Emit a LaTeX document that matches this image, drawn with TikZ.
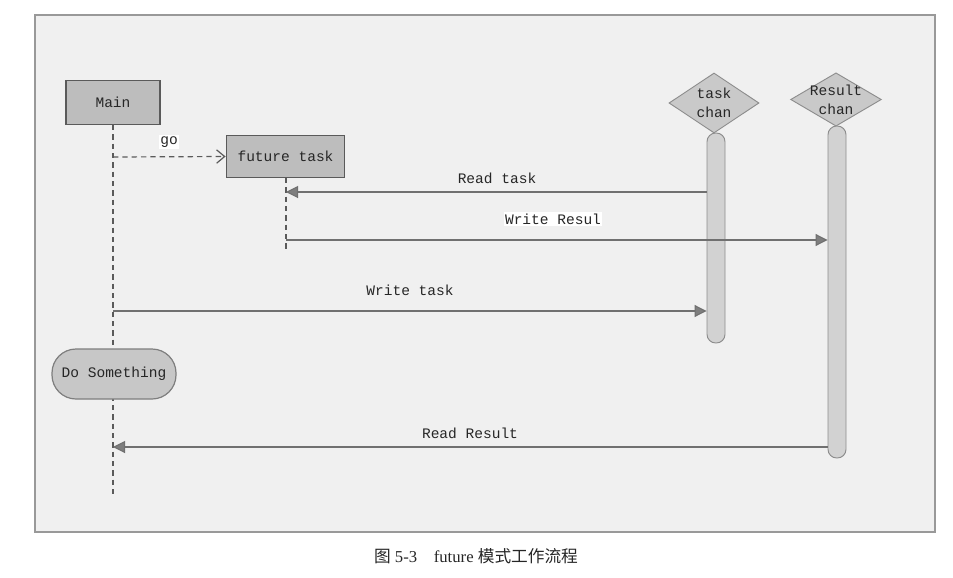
\documentclass[tikz,border=0pt]{standalone}
\usepackage{fontspec}
\setmainfont{Liberation Serif}
\setmonofont{Liberation Mono}
\newfontfamily\cjk{Noto Sans CJK SC}
\usetikzlibrary{arrows.meta,shapes.geometric}
\definecolor{bgc}{HTML}{F0F0F0}
\definecolor{boxc}{HTML}{BDBDBD}
\definecolor{boxd}{HTML}{5A5A5A}
\definecolor{dmc}{HTML}{C9C9C9}
\definecolor{barc}{HTML}{D2D2D2}
\definecolor{linec}{HTML}{707070}
\tikzset{
  lbl/.style={font=\ttfamily\fontsize{10.9}{12}\selectfont, text=black!85},
  actor/.style={lbl, draw=boxd, fill=boxc, line width=0.9pt, inner sep=0pt},
  chan/.style={diamond, draw=linec!80, fill=dmc, line width=0.7pt, inner sep=0pt},
  chantxt/.style={lbl, align=center, inner sep=0pt, font=\ttfamily\fontsize{10.9}{14.5}\selectfont},
  bar/.style={draw=linec!80, fill=barc, line width=0.7pt, rounded corners=6.5pt, minimum width=13.5pt, inner sep=0pt},
  life/.style={draw=boxd, line width=0.9pt, dash pattern=on 4pt off 3pt},
  msg/.style={draw=linec, line width=0.8pt, -{Triangle[length=9pt,width=9pt,fill=linec!90]}},
  gomsg/.style={draw=boxd, line width=0.9pt, dash pattern=on 4pt off 3pt, -{Straight Barb[length=6pt,width=10pt,line width=0.9pt]}},
  mlbl/.style={lbl, fill=white, inner sep=1pt}
}
\begin{document}
\begin{tikzpicture}[x=0.75pt,y=-0.75pt]
\useasboundingbox (0,0) rectangle (953,578);
\fill[white] (0,0) rectangle (953,578);
\draw[fill=bgc, draw=black!40, line width=0.8pt] (35,15) rectangle (935,532);

% lifelines
\coordinate (mtop) at (113,125);
\coordinate (mbot) at (113,498);
\coordinate (ftop) at (286,178);
\coordinate (fbot) at (286,249);
\draw[life] (mtop) -- (mbot);
\draw[life] (ftop) -- (fbot);

% actors
\node[actor, minimum width=70.5pt, minimum height=33pt] (main) at (113,102.5) {Main};
\node[actor, minimum width=89pt, minimum height=32pt] (ftask) at (285.5,156.5) {future task};
\node[actor, draw=linec!90, fill=boxc!85, rounded corners=18pt, minimum width=93pt, minimum height=37.5pt] (dosth) at (114,374) {Do Something};

% channels
\node[chan, minimum width=67.5pt, minimum height=45pt] (tchan) at (714,103) {};
\node[chantxt] (tchantxt) at (tchan.center) {task\\chan};
\node[chan, minimum width=68pt, minimum height=40pt] (rchan) at (836,99.5) {};
\node[chantxt] (rchantxt) at (rchan.center) {Result\\chan};
\node[bar, minimum height=157.5pt] (tbar) at (716,238) {};
\node[bar, minimum height=249pt] (rbar) at (837,292) {};

% messages
\draw[gomsg] (mtop |- 0,157) -- (ftask.west);
\node[mlbl] (golbl) at (169,142) {go};

\draw[msg] (tbar.west |- 0,192) -- (ftop |- 0,192);
\node[lbl] (rtlbl) at (497,178) {Read task};

\draw[msg] (ftop |- 0,240) -- (rbar.west |- 0,240);
\node[mlbl] (wrlbl) at (553,219) {Write Resul};

\draw[msg] (mtop |- 0,311) -- (tbar.west |- 0,311);
\node[lbl] (wtlbl) at (410,290) {Write task};

\draw[msg] (rbar.west |- 0,447) -- (mtop |- 0,447);
\node[lbl] (rrlbl) at (470,433) {Read Result};

% caption
\node[font=\fontsize{12.5}{14}\selectfont, text=black!85] (cap) at (476,556) {{\cjk 图} 5-3\quad future {\cjk 模式工作流程}};
\end{tikzpicture}
\end{document}
